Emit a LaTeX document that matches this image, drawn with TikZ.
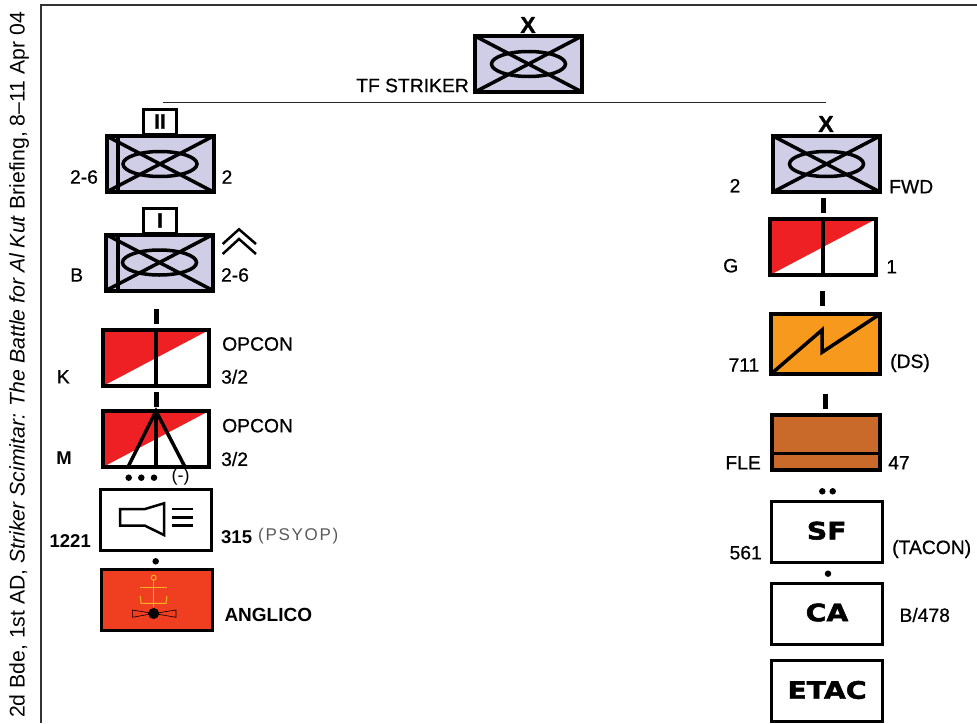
\documentclass[tikz,border=0pt]{standalone}
\usepackage{fontspec}
\setmainfont{Liberation Sans}
\newfontfamily\tagfont[FakeBold=0.6]{Liberation Sans}
\newfontfamily\heavyfont[FakeStretch=1.18]{DejaVu Sans}
\definecolor{lavender}{HTML}{CFCEE6}
\definecolor{flagred}{HTML}{EE2024}
\definecolor{signalorange}{HTML}{F7991C}
\definecolor{fuelbrown}{HTML}{C9692A}
\definecolor{navalred}{HTML}{F03E20}
\definecolor{anchoryellow}{HTML}{F5B324}
\newcommand{\mechcross}[1]{
    \draw[symbolline] (#1.north west) -- (#1.south east);
    \draw[symbolline] (#1.south west) -- (#1.north east);
    \draw[symbolline] (#1.center) ellipse (37pt and 12.5pt);
}

\begin{document}
\begin{tikzpicture}[
        x=1pt,
        y=-1pt,
        box/.style={draw, rectangle, line width=4pt, inner sep=0pt, outer sep=0pt, minimum width=107pt, minimum height=56pt},
        whitebox/.style={box, line width=3pt, fill=white, minimum width=111pt, minimum height=61pt},
        echelonbox/.style={draw, rectangle, line width=3pt, fill=white, inner sep=0pt, outer sep=0pt, minimum width=33pt, minimum height=25pt, font=\fontsize{21}{21}\selectfont\bfseries\addfontfeature{FakeBold=1}},
        redhalf/.style={path picture={\fill[flagred] (path picture bounding box.south west) -- (path picture bounding box.north west) -- (path picture bounding box.north east) -- cycle;}},
        symbolline/.style={line width=3.5pt},
        tickbar/.style={fill=black, rectangle, inner sep=0pt, minimum width=5pt, minimum height=15pt},
        dotmark/.style={fill=black, circle, inner sep=0pt, minimum size=6.5pt},
        tag/.style={inner sep=0pt, font=\fontsize{19.3}{20}\selectfont\tagfont},
        boldtag/.style={inner sep=0pt, font=\fontsize{18.5}{19}\selectfont\bfseries},
        heavytag/.style={inner sep=0pt, font=\fontsize{24}{24}\selectfont\heavyfont\bfseries\addfontfeature{FakeBold=2}},
        echelontag/.style={inner sep=0pt, font=\fontsize{23}{23}\selectfont\bfseries\addfontfeature{FakeBold=1}}
        ]
            \useasboundingbox (0, 0) rectangle (977, 723);

            % Frame and source line
            \coordinate (framebottom) at (40.5, 723);
            \coordinate (framecorner) at (40.5, 5);
            \coordinate (frameright) at (977, 5);
            \draw[line width=2pt, black!80] (framebottom) -- (framecorner) -- (frameright);
            \node[rotate=90, anchor=base west, inner sep=0pt, font=\fontsize{21.2}{22}\selectfont] (sourceline) at (24.5, 718)
                {2d Bde, 1st AD, \textit{Striker Scimitar: The Battle for Al Kut} Briefing, 8--11 Apr 04};

            % TF Striker
            \node[echelontag] (tfx) at (528, 25) {X};
            \node[box, fill=lavender] (tf) at (528.5, 64) {};
            \mechcross{tf}
            \node[tag, anchor=east] (tflabel) at (469, 85.5) {TF STRIKER};
            \coordinate (linewest) at (163, 102);
            \coordinate (lineeast) at (826, 102);
            \draw[black!85] (linewest) -- (lineeast);

            % Battalion 2-2
            \node[echelonbox] (bnech) at (160, 121.5) {\raisebox{-1.5pt}{II}};
            \node[box, fill=lavender] (bn) at (160, 164) {};
            \mechcross{bn}
            \draw[line width=4pt] (117.5, 134) -- (117.5, 194);
            \node[tag] (bnleft) at (84, 177) {2-6};
            \node[tag] (bnright) at (227, 177) {2};

            % Company B
            \node[echelonbox] (coech) at (160, 220.5) {\raisebox{-1.5pt}{I}};
            \node[box, fill=lavender] (co) at (159.5, 262.5) {};
            \mechcross{co}
            \draw[line width=4pt] (117.5, 233) -- (117.5, 292);
            \draw[line width=2.5pt] (222.7, 244) -- (239, 229.3) -- (256, 244);
            \draw[line width=2.5pt] (222.7, 254) -- (239, 239) -- (256, 254);
            \node[tag] (coleft) at (76.7, 275) {B};
            \node[tag] (coright) at (235, 275) {2-6};

            % Company K
            \node[tickbar] (tickk) at (156.7, 316.5) {};
            \node[box, fill=white, redhalf, minimum width=106pt] (kco) at (156, 358) {};
            \draw[line width=4pt] (kco.north) -- (kco.south);
            \node[tag, anchor=west] (kopcon) at (222, 344) {OPCON};
            \node[tag] (kleft) at (63.3, 376.7) {K};
            \node[tag, anchor=west] (kright) at (221, 376.7) {3/2};

            % Company M
            \node[tickbar] (tickm) at (156.7, 399) {};
            \node[box, fill=white, redhalf, minimum width=106pt] (mco) at (156, 439) {};
            \draw[line width=4pt] (mco.north) -- (mco.south);
            \draw[symbolline, line join=miter] (128, 467) -- (mco.north) -- (185, 467);
            \node[tag, anchor=west] (mopcon) at (222, 425.7) {OPCON};
            \node[boldtag] (mleft) at (64, 458.3) {M};
            \node[tag, anchor=west] (mright) at (221, 459) {3/2};
            \node[dotmark] (mdota) at (128.7, 477.7) {};
            \node[dotmark] (mdotb) at (141.3, 477.7) {};
            \node[dotmark] (mdotc) at (154, 477.7) {};
            \node[inner sep=0pt, font=\fontsize{18}{18}\selectfont] (mminus) at (180.7, 476.7) {(-)};

            % PSYOP
            \node[whitebox] (psyop) at (156, 520) {};
            \draw[line width=2.5pt, line join=miter] (120, 509) -- (145, 509) -- (164, 503.3) -- (164, 535) -- (145, 525.7) -- (120, 525.7) -- cycle;
            \foreach \liney in {509, 517.3, 525.7}
                \draw[line width=2.5pt] (171.7, \liney) -- (193.3, \liney);
            \node[boldtag, anchor=east] (psyopleft) at (91, 540.7) {1221};
            \node[boldtag, anchor=west] (psyopnum) at (221, 536.7) {315};
            \node[inner sep=0pt, anchor=west, text=black!65, font=\fontsize{17}{19}\selectfont\addfontfeature{LetterSpace=10}] (psyoptag) at (258, 535.7) {(PSYOP)};
            \node[dotmark] (psyopdot) at (155.7, 561.3) {};

            % ANGLICO
            \node[whitebox, fill=navalred] (anglico) at (156.5, 600) {};
            \draw[anchoryellow, line width=1pt] (153.7, 577.7) circle (2.5);
            \draw[anchoryellow, line width=1pt] (140, 587.3) -- (167, 587.3);
            \draw[anchoryellow, line width=1pt] (153.7, 580.2) -- (153.7, 607);
            \draw[anchoryellow, line width=1pt] (140.3, 596) -- (141, 603.3) -- (166, 603.3) -- (167, 596);
            \draw[line width=.6pt] (153.7, 613.5) -- (132.3, 610) -- (132.3, 617.3) -- cycle;
            \draw[line width=.6pt] (153.7, 613.5) -- (176, 610) -- (176, 617.3) -- cycle;
            \node[dotmark, minimum size=11pt] (anglicodot) at (153.7, 613.5) {};
            \node[boldtag, font=\fontsize{19}{19}\selectfont\bfseries, anchor=west] (anglicolabel) at (224.3, 615) {ANGLICO};

            % Forward command post
            \node[echelontag] (fwdx) at (826, 124) {X};
            \node[box, fill=lavender] (fwd) at (826.5, 164) {};
            \mechcross{fwd}
            \node[tag] (fwdleft) at (735, 185.7) {2};
            \node[tag, anchor=west] (fwdright) at (889, 186.7) {FWD};

            % Company G
            \node[tickbar] (tickg) at (823.3, 205.5) {};
            \node[box, fill=white, redhalf, minimum width=106pt] (gco) at (823, 247) {};
            \draw[line width=4pt] (gco.north) -- (gco.south);
            \node[tag] (gleft) at (730.7, 265.7) {G};
            \node[tag] (gright) at (891.7, 266.7) {1};

            % Signal
            \node[tickbar] (ticks) at (822, 298.5) {};
            \node[box, fill=signalorange, minimum width=109pt, minimum height=60pt] (sig) at (825.5, 344) {};
            \draw[symbolline, line join=miter] (sig.south west) -- (822, 330) -- (822, 352.3) -- (sig.north east);
            \node[tag, anchor=east] (sigleft) at (759.5, 365) {711};
            \node[tag, anchor=west] (sigright) at (890, 363) {(DS)};

            % Fuel element
            \node[tickbar] (tickf) at (825.3, 401.5) {};
            \node[box, fill=fuelbrown, minimum width=108pt, minimum height=55pt] (fle) at (826, 442.5) {};
            \draw[symbolline] (fle.west |- 0, 453.3) -- (fle.east |- 0, 453.3);
            \node[tag, anchor=east] (fleleft) at (761, 462.7) {FLE};
            \node[tag, anchor=west] (fleright) at (888, 462.7) {47};
            \node[dotmark] (fledota) at (822.3, 491.3) {};
            \node[dotmark] (fledotb) at (832.7, 491.3) {};

            % Special forces, civil affairs, ETAC
            \node[whitebox] (sf) at (827, 532) {};
            \node[heavytag] (sftext) at (826.7, 530.7) {SF};
            \node[tag, anchor=east] (sfleft) at (762, 552.7) {561};
            \node[tag, anchor=west] (sfright) at (892, 549) {(TACON)};
            \node[dotmark] (sfdot) at (828, 573.7) {};
            \node[whitebox] (ca) at (827, 613.5) {};
            \node[heavytag] (catext) at (827, 612.5) {CA};
            \node[tag, anchor=west] (caright) at (899.3, 615) {B/478};
            \node[whitebox] (etac) at (827, 691) {};
            \node[heavytag] (etactext) at (827, 690) {ETAC};
        \end{tikzpicture}
\end{document}
